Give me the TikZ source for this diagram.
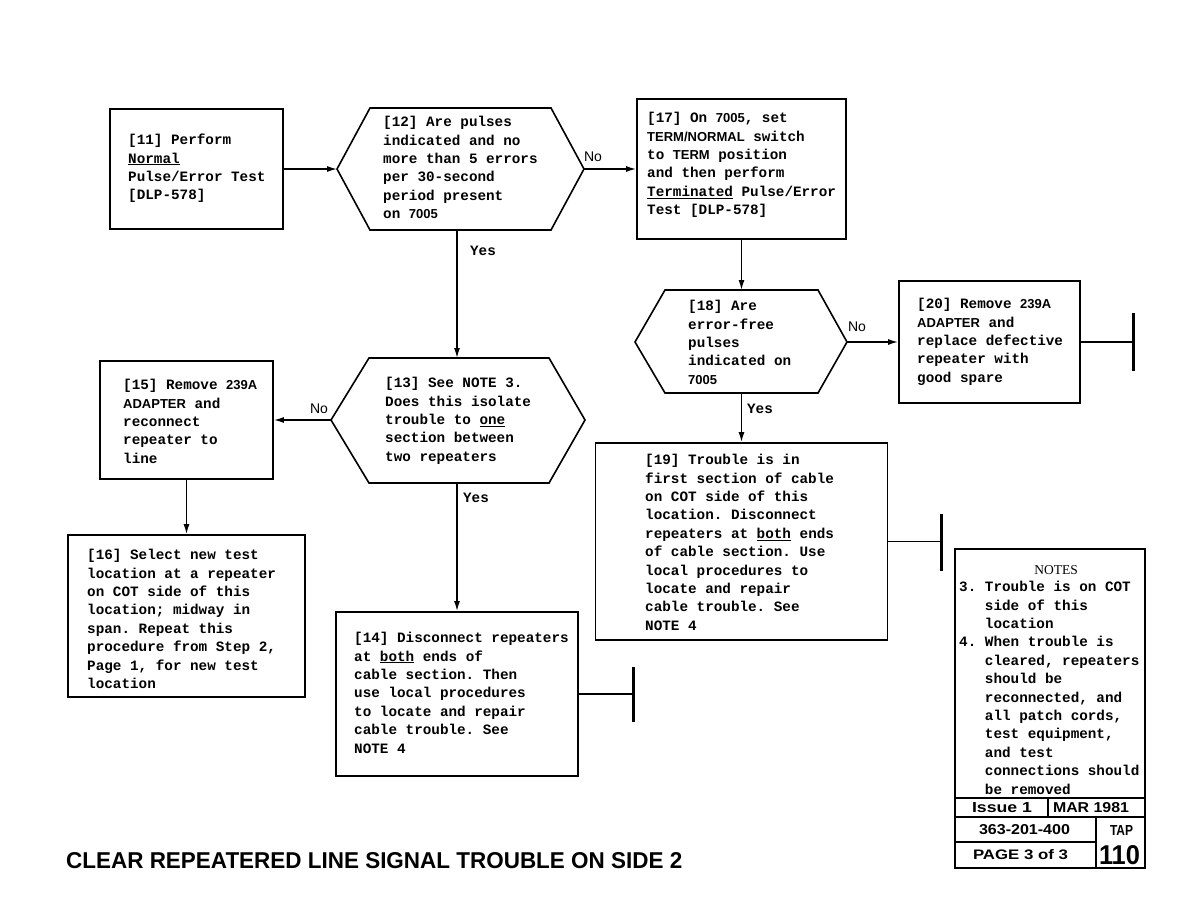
\documentclass[tikz,border=0pt]{standalone}
\usepackage{fontspec}
\usepackage{graphicx}
\setmonofont{Liberation Mono}
\newfontfamily\hv{Liberation Sans}
\newfontfamily\tms{Liberation Serif}
\usetikzlibrary{arrows.meta}
\newcommand\bodyf{\ttfamily\bfseries\fontsize{14.3}{18.4}\selectfont}
\newcommand\bsf[1]{{\hv\bfseries\fontsize{13}{18.4}\selectfont #1}}
\newcommand\ul[1]{\underline{#1}}
\newcommand\ind{\hspace*{25.74pt}}
\tikzset{
 box/.style={draw, line width=1.8pt, inner sep=0pt},
 hexa/.style={draw, line width=1.6pt, line join=miter},
 txt/.style={anchor=north west, inner sep=0pt, align=left, font=\bodyf},
 arr/.style={line width=1.4pt, -{Latex[length=10pt,width=6pt]}},
 conn/.style={line width=1.4pt},
 endbar/.style={line width=3pt},
 lbl/.style={inner sep=0pt, font=\hv\fontsize{14}{16}\selectfont},
 ylbl/.style={inner sep=0pt, font=\bodyf},
 thin/.style={line width=1.6pt},
}
\begin{document}
\begin{tikzpicture}[x=1pt,y=-1pt]
\useasboundingbox (0,0) rectangle (1188,918);
\fill[white] (0,0) rectangle (1188,918);

% ---------- boxes ----------
\node[box, minimum width=173pt, minimum height=120pt] (b11) at (196.5,169) {};
\node[box, minimum width=209pt, minimum height=140pt] (b17) at (741.5,169) {};
\node[box, minimum width=181pt, minimum height=122pt] (b20) at (989.5,342) {};
\node[box, minimum width=292pt, minimum height=197pt] (b19) at (741.5,541.5) {};
\node[box, minimum width=173pt, minimum height=118pt] (b15) at (186.5,420) {};
\node[box, minimum width=237pt, minimum height=162pt] (b16) at (186.5,616) {};
\node[box, minimum width=242pt, minimum height=164pt] (b14) at (457,694) {};
\node[box, minimum width=190pt, minimum height=319pt] (notes) at (1050,708.5) {};

% ---------- hexagons ----------
\coordinate (h12w) at (337,169);
\coordinate (h12e) at (584,169);
\coordinate (h12s) at (457,230);
\draw[hexa] (h12w) -- (370,108) -- (551,108) -- (h12e) -- (551,230) -- (370,230) -- cycle;

\coordinate (h18w) at (635,342);
\coordinate (h18e) at (847,342);
\coordinate (h18n) at (741.5,290);
\coordinate (h18s) at (741.5,393);
\draw[hexa] (h18w) -- (665,290) -- (818,290) -- (h18e) -- (818,393) -- (665,393) -- cycle;

\coordinate (h13w) at (331,420);
\coordinate (h13e) at (585,420);
\coordinate (h13n) at (457,358);
\coordinate (h13s) at (457,483);
\draw[hexa] (h13w) -- (369,358) -- (549,358) -- (h13e) -- (549,483) -- (369,483) -- cycle;

% ---------- texts ----------
\node[txt] (t11) at (128,131.6) {\strut[11] Perform\\\ul{Normal}\\Pulse/Error Test\\{[}DLP-578{]}};
\node[txt] (t12) at (383,113.6) {\strut[12] Are pulses\\indicated and no\\more than 5 errors\\per 30-second\\period present\\on \bsf{7005}};
\node[txt] (t17) at (647,109.6) {\strut[17] On \bsf{7005}, set\\\bsf{TERM/NORMAL} switch\\to \bsf{TERM} position\\and then perform\\\ul{Terminated} Pulse/Error\\Test [DLP-578]};
\node[txt] (t18) at (688,297.6) {\strut[18] Are\\error-free\\pulses\\indicated on\\\bsf{7005}};
\node[txt] (t20) at (917,295.6) {\strut[20] Remove \bsf{239A}\\\bsf{ADAPTER} and\\replace defective\\repeater with\\good spare};
\node[txt] (t19) at (645,451.6) {\strut[19] Trouble is in\\first section of cable\\on COT side of this\\location. Disconnect\\repeaters at \ul{both} ends\\of cable section. Use\\local procedures to\\locate and repair\\cable trouble. See\\NOTE 4};
\node[txt] (t13) at (385,374.6) {\strut[13] See NOTE 3.\\Does this isolate\\trouble to \ul{one}\\section between\\two repeaters};
\node[txt] (t15) at (123,376.6) {\strut[15] Remove \bsf{239A}\\\bsf{ADAPTER} and\\reconnect\\repeater to\\line};
\node[txt] (t16) at (87,546.6) {\strut[16] Select new test\\location at a repeater\\on COT side of this\\location; midway in\\span. Repeat this\\procedure from Step 2,\\Page 1, for new test\\location};
\node[txt] (t14) at (354,629.6) {\strut[14] Disconnect repeaters\\at \ul{both} ends of\\cable section. Then\\use local procedures\\to locate and repair\\cable trouble. See\\NOTE 4};

% ---------- connectors ----------
\draw[arr] (b11.east) -- (h12w);
\draw[arr] (h12e) -- (b17.west);
\draw[arr] (h12s) -- (h13n);
\draw[arr] (b17.south) -- (h18n);
\draw[arr] (h18e) -- (b20.west);
\draw[arr] (h18s) -- (b19.north);
\draw[arr] (h13w) -- (b15.east);
\draw[arr] (b15.south) -- (b16.north);
\draw[arr] (h13s) -- (b14.north);

\coordinate (e20) at (1133,342);
\draw[conn] (b20.east) -- (e20);
\draw[endbar] (1133,313) -- (1133,371);
\coordinate (e19) at (941,541.5);
\draw[conn] (b19.east) -- (e19);
\draw[endbar] (941,514) -- (941,571);
\coordinate (e14) at (633,694);
\draw[conn] (b14.east) -- (e14);
\draw[endbar] (633,667) -- (633,722);

% ---------- labels ----------
\node[lbl] (no1) at (593,157) {No};
\node[ylbl] (yes1) at (483,251) {Yes};
\node[lbl] (no2) at (857,327) {No};
\node[ylbl] (yes2) at (760,409) {Yes};
\node[lbl] (no3) at (319,409) {No};
\node[ylbl] (yes3) at (476,498) {Yes};

% ---------- notes ----------
\node[inner sep=0pt, font=\tms\fontsize{13.5}{16}\selectfont] (notesh) at (1056,570) {NOTES};
\node[txt] (tn) at (959,578.6) {\strut 3. Trouble is on COT\\\ind side of this\\\ind location\\4. When trouble is\\\ind cleared, repeaters\\\ind should be\\\ind reconnected, and\\\ind all patch cords,\\\ind test equipment,\\\ind and test\\\ind connections should\\\ind be removed};
\draw[thin] (955,798) -- (1145,798);
\draw[thin] (955,817) -- (1145,817);
\draw[thin] (955,842) -- (1096,842);
\draw[thin] (1048,798) -- (1048,817);
\draw[thin] (1096,817) -- (1096,868);
\node[inner sep=0pt] (iss) at (1002,808) {\resizebox{60pt}{10pt}{\hv\bfseries Issue 1}};
\node[inner sep=0pt] (mar) at (1091,808) {\resizebox{76pt}{10pt}{\hv\bfseries MAR 1981}};
\node[inner sep=0pt] (num) at (1024.5,830) {\resizebox{91pt}{10pt}{\hv\bfseries 363-201-400}};
\node[inner sep=0pt] (tap) at (1121.5,830) {\resizebox{23pt}{10pt}{\hv\bfseries TAP}};
\node[inner sep=0pt] (pg) at (1020.5,855) {\resizebox{95pt}{10pt}{\hv\bfseries PAGE 3 of 3}};
\node[inner sep=0pt] (p110) at (1119.5,855) {\resizebox{41pt}{19pt}{\hv\bfseries 110}};

% ---------- title ----------
\node[anchor=south west, inner sep=0pt] (title) at (66,869) {\resizebox{616pt}{16pt}{\hv\bfseries CLEAR REPEATERED LINE SIGNAL TROUBLE ON SIDE 2}};
\end{tikzpicture}
\end{document}
